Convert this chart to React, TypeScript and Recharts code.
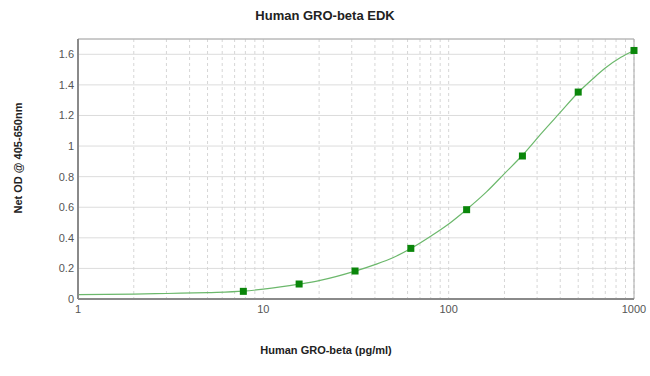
import React from 'react';
import {
  ComposedChart,
  Line,
  Scatter,
  XAxis,
  YAxis,
  CartesianGrid,
  ReferenceLine,
} from 'recharts';

// Standard points (concentration, OD)
const STD_CONC = [7.8, 15.6, 31.25, 62.5, 125, 250, 500, 1000];
const STD_OD = [0.05, 0.098, 0.183, 0.331, 0.584, 0.935, 1.353, 1.625];

// Fitted curve
const CURVE_CONC = [1, 2, 3, 5, 7.8, 10, 15.6, 20, 31.25, 40, 50, 62.5, 80, 100, 125, 160, 200, 250, 320, 400, 500, 600, 700, 850, 1000];
const CURVE_OD = [0.028, 0.032, 0.036, 0.042, 0.051, 0.064, 0.097, 0.12, 0.182, 0.225, 0.27, 0.33, 0.41, 0.49, 0.585, 0.7, 0.82, 0.94, 1.09, 1.22, 1.35, 1.44, 1.51, 1.58, 1.625];

const X_TICKS = [
  1, 2, 3, 4, 5, 6, 7, 8, 9,
  10, 20, 30, 40, 50, 60, 70, 80, 90,
  100, 200, 300, 400, 500, 600, 700, 800, 900, 1000,
];
const X_LABELS = [1, 10, 100, 1000];
const Y_TICKS = [0, 0.2, 0.4, 0.6, 0.8, 1, 1.2, 1.4, 1.6];

const TITLE = 'Human GRO-beta EDK';
const X_TITLE = 'Human GRO-beta (pg/ml)';
const Y_TITLE = 'Net OD @ 405-650nm';

const FONT = '"Liberation Sans", Arial, sans-serif';
const LINE_COLOR = '#6cb86c';
const POINT_COLOR = '#0a860a';

const stdData = STD_CONC.map((x, i) => ({ x, y: STD_OD[i] }));
const curveData = CURVE_CONC.map((x, i) => ({ x, y: CURVE_OD[i] }));

const SquareDot = (props: any) => {
  const { cx, cy } = props;
  if (cx == null || cy == null) return null;
  return <rect x={cx - 3.5} y={cy - 3.5} width={7} height={7} fill={POINT_COLOR} />;
};

export default function App() {
  return (
    <div style={{ position: 'absolute', left: 0, top: 0, width: 650, height: 376, background: '#fff' }}>
      <ComposedChart
        width={650}
        height={376}
        margin={{ top: 39, right: 16, bottom: 47, left: 0 }}
        style={{ fontFamily: FONT }}
      >
        <CartesianGrid horizontal={true} vertical={false} stroke="#dcdcdc" />
        <CartesianGrid horizontal={false} vertical={true} stroke="#d6d6d6" strokeDasharray="3 3" />
        <XAxis
          type="number"
          dataKey="x"
          scale="log"
          domain={[1, 1000]}
          ticks={X_TICKS}
          interval={0}
          height={30}
          tickLine={false}
          tickSize={4}
          tickMargin={2}
          axisLine={{ stroke: '#8a8a8a', strokeWidth: 2 }}
          tick={{ fontSize: 11, fill: '#555', fontFamily: FONT }}
          tickFormatter={(v: number) => (X_LABELS.includes(v) ? String(v) : '')}
        />
        <YAxis
          type="number"
          dataKey="y"
          domain={[0, 1.7]}
          ticks={Y_TICKS}
          interval={0}
          width={78}
          tickLine={false}
          tickSize={2}
          tickMargin={2}
          axisLine={{ stroke: '#8a8a8a', strokeWidth: 2 }}
          tick={{ fontSize: 11, fill: '#555', fontFamily: FONT }}
        />
        <ReferenceLine y={1.7} stroke="#a8a8a8" />
        <ReferenceLine x={1000} stroke="#a8a8a8" />
        <Line
          data={curveData}
          dataKey="y"
          type="monotone"
          stroke={LINE_COLOR}
          strokeWidth={1.2}
          dot={false}
          activeDot={false}
          isAnimationActive={false}
        />
        <Scatter
          data={stdData}
          dataKey="y"
          shape={<SquareDot />}
          isAnimationActive={false}
        />
      </ComposedChart>
      <svg
        width={650}
        height={376}
        style={{ position: 'absolute', left: 0, top: 0, pointerEvents: 'none' }}
      >
        <text x={325} y={20} textAnchor="middle" fontFamily={FONT} fontSize={13} fontWeight="bold" fill="#222">
          {TITLE}
        </text>
        <text x={326} y={354} textAnchor="middle" fontFamily={FONT} fontSize={11} fontWeight="bold" fill="#222">
          {X_TITLE}
        </text>
        <text
          x={18}
          y={158}
          textAnchor="middle"
          fontFamily={FONT}
          fontSize={11}
          fontWeight="bold"
          fill="#222"
          transform="rotate(-90 18 158)"
          dominantBaseline="central"
        >
          {Y_TITLE}
        </text>
      </svg>
    </div>
  );
}
